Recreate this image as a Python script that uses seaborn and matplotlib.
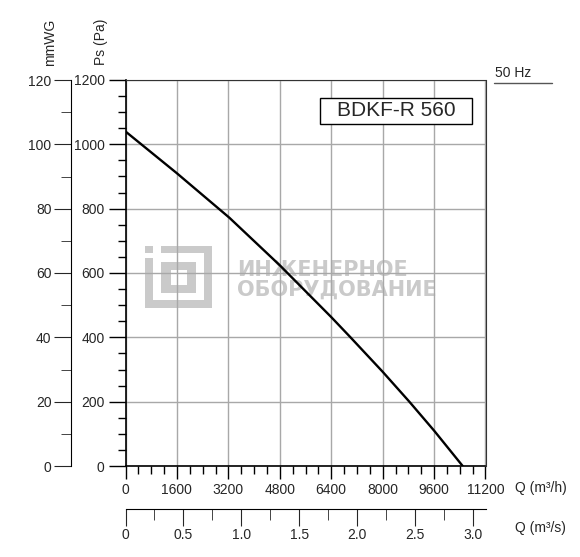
import numpy as np
import pandas as pd
import matplotlib
matplotlib.use("Agg")
import matplotlib.pyplot as plt
import seaborn as sns
from matplotlib.patches import Rectangle
from matplotlib.lines import Line2D
from matplotlib.ticker import MultipleLocator

# fan curve
flow_m3h = [0, 1600, 3230, 4800, 6400, 7000, 8000, 8830, 9600, 10490]
pressure_pa = [1040, 910, 772, 624, 463, 400, 293, 200, 110, 0]

x_ticks = [0, 1600, 3200, 4800, 6400, 8000, 9600, 11200]
y_ticks_pa = [0, 200, 400, 600, 800, 1000, 1200]
y_ticks_mm = [0, 20, 40, 60, 80, 100, 120]
x_ticks_m3s = [0, 0.5, 1.0, 1.5, 2.0, 2.5, 3.0]

model = "BDKF-R 560"
freq = "50 Hz"
watermark = ["ИНЖЕНЕРНОЕ", "ОБОРУДОВАНИЕ"]

df = pd.DataFrame({"Q": flow_m3h, "Ps": pressure_pa})

sns.set_style("ticks")
plt.rcParams["font.family"] = ["Liberation Sans", "DejaVu Sans"]
plt.rcParams["font.size"] = 10

W, H = 580, 557
fig = plt.figure(figsize=(W / 100, H / 100), dpi=100)

def fx(px):
    return px / W

def fy(py):
    return 1 - py / H

left, right, top, bottom = 125.5, 485.5, 80, 466
ax = fig.add_axes([fx(left), fy(bottom), fx(right - left), fy(top) - fy(bottom)])

def ax_frac(px, py):
    return (px - left) / (right - left), (bottom - py) / (bottom - top)

# watermark logo (pixel boxes), behind grid and curve
wm = "#cacaca"
logo = [(145.3, 245.7, 153, 253.3), (160.7, 245.7, 212, 253.3), (204, 245.7, 212, 307.7),
        (145.3, 300, 212, 307.7), (145.3, 257.7, 153, 307.7),
        (161.3, 261.7, 196.3, 270), (161.3, 285, 196.3, 293.3),
        (161.3, 261.7, 170.7, 293.3), (187.3, 261.7, 196.3, 293.3)]
for x0, y0, x1, y1 in logo:
    a0, b1 = ax_frac(x0, y0)
    a1, b0 = ax_frac(x1, y1)
    ax.add_patch(Rectangle((a0, b0), a1 - a0, b1 - b0, transform=ax.transAxes,
                           facecolor=wm, edgecolor="none", zorder=0))
for word, py in zip(watermark, [269.5, 289.5]):
    a, b = ax_frac(237, py)
    ax.text(a, b, word, transform=ax.transAxes, color=wm, fontsize=15,
            fontweight="bold", va="center", ha="left", zorder=0, family="DejaVu Sans")

sns.lineplot(data=df, x="Q", y="Ps", ax=ax, color="black", linewidth=1.7, zorder=3)

ax.set_xlim(0, 11200)
ax.set_ylim(0, 1200)
ax.set_xticks(x_ticks)
ax.set_xticklabels([str(v) for v in x_ticks])
ax.set_yticks(y_ticks_pa)
ax.set_yticklabels([str(v) for v in y_ticks_pa])
ax.xaxis.set_minor_locator(MultipleLocator(400))
ax.yaxis.set_minor_locator(MultipleLocator(50))
ax.tick_params(axis="both", which="major", direction="out", length=9, width=1,
               color="black", labelsize=10, pad=3)
ax.tick_params(axis="x", which="minor", direction="out", length=6, width=1, color="black")
ax.tick_params(axis="y", which="minor", direction="out", length=6, width=1, color="black")
ax.tick_params(axis="y", which="major", length=12)
ax.grid(True, which="major", color="#a8a8a8", linewidth=1)
ax.set_xlabel("")
ax.set_ylabel("")
for s in ["top", "right"]:
    ax.spines[s].set_visible(True)
    ax.spines[s].set_color("#333333")
for s in ["left", "bottom"]:
    ax.spines[s].set_color("black")
    ax.spines[s].set_linewidth(1.2)

# secondary pressure axis in mmWG
ax_mm = fig.add_axes([fx(71), fy(bottom), 0.001, fy(top) - fy(bottom)])
ax_mm.set_ylim(0, 120)
ax_mm.set_yticks(y_ticks_mm)
ax_mm.set_yticklabels([str(v) for v in y_ticks_mm])
ax_mm.yaxis.set_minor_locator(MultipleLocator(10))
ax_mm.tick_params(axis="y", which="major", direction="out", length=12, labelsize=10, pad=2)
ax_mm.tick_params(axis="y", which="minor", direction="out", length=7)
ax_mm.set_xticks([])
for s in ["top", "right", "bottom"]:
    ax_mm.spines[s].set_visible(False)
ax_mm.spines["left"].set_color("black")
ax_mm.patch.set_visible(False)

# secondary flow axis in m3/s
ax_s = fig.add_axes([fx(left), fy(509), fx(right - left), 0.001])
ax_s.set_xlim(0, 11200 / 3600)
ax_s.set_xticks(x_ticks_m3s)
ax_s.set_xticklabels(["0"] + [f"{v:.1f}" for v in x_ticks_m3s[1:]])
ax_s.xaxis.set_minor_locator(MultipleLocator(0.25))
ax_s.tick_params(axis="x", which="major", direction="out", length=12, labelsize=10, pad=2)
ax_s.tick_params(axis="x", which="minor", direction="out", length=8)
ax_s.set_yticks([])
for s in ["top", "right", "left"]:
    ax_s.spines[s].set_visible(False)
ax_s.spines["bottom"].set_color("black")
ax_s.patch.set_visible(False)

# axis titles
fig.text(fx(101), fy(42), "Ps (Pa)", rotation=90, ha="center", va="center", fontsize=10)
fig.text(fx(50), fy(42), "mmWG", rotation=90, ha="center", va="center", fontsize=10)
fig.text(fx(515), fy(488), "Q (m³/h)", ha="left", va="center", fontsize=10)
fig.text(fx(515), fy(528), "Q (m³/s)", ha="left", va="center", fontsize=10)

# frequency label
fig.text(fx(495), fy(73), freq, ha="left", va="center", fontsize=10)
fig.add_artist(Line2D([fx(494), fx(552)], [fy(83), fy(83)], color="#555555", linewidth=1))

# model box
fig.add_artist(Rectangle((fx(320), fy(124)), fx(152), fy(98) - fy(124),
                         facecolor="white", edgecolor="black", linewidth=1, zorder=5))
fig.text(fx(396), fy(111), model, ha="center", va="center", fontsize=15, zorder=6)

fig.savefig("out.png", dpi=100)
